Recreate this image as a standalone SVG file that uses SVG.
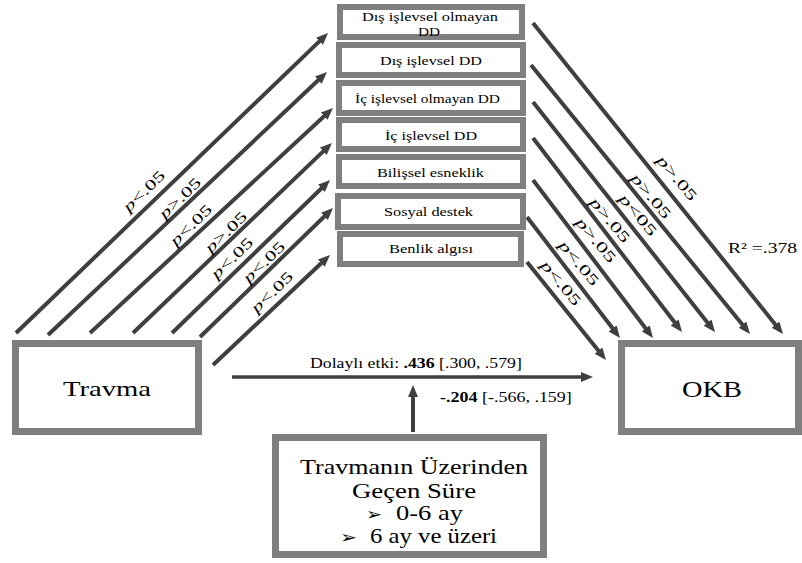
<svg xmlns="http://www.w3.org/2000/svg" width="802" height="563" viewBox="0 0 802 563">
  <defs>
    <marker id="head" markerUnits="userSpaceOnUse" markerWidth="12" markerHeight="10" refX="1" refY="5" orient="auto">
      <path d="M0,0 L12,5 L0,10 z" fill="#3f3f3f"/>
    </marker>
    <style>
      .box { fill: #ffffff; stroke: #7f7f7f; stroke-width: 6; }
      .big { fill: #ffffff; stroke: #7f7f7f; stroke-width: 7; }
      .edge { stroke: #3f3f3f; stroke-width: 4; fill: none; marker-end: url(#head); }
      .t { font-family: 'Liberation Serif', 'DejaVu Serif', 'Noto Serif', serif; fill: #000000; }
      .mid { font-size: 13px; }
      .lg { font-size: 21px; }
      .pl { font-size: 15px; }
      .sm { font-size: 14px; }
      .bul { font-family: 'DejaVu Sans', sans-serif; font-size: 17px; fill: #000000; }
    </style>
  </defs>
  <rect width="802" height="563" fill="#ffffff"/>

  <!-- connectors -->
  <g id="connectors">
    <!-- Travma to mediators -->
    <line class="edge" x1="16" y1="333" x2="320.1" y2="40.6"/>
    <line class="edge" x1="48" y1="335" x2="319.0" y2="79.5"/>
    <line class="edge" x1="90" y1="333" x2="324.9" y2="115.5"/>
    <line class="edge" x1="133" y1="333" x2="324.0" y2="150.6"/>
    <line class="edge" x1="172" y1="333" x2="322.1" y2="187.7"/>
    <line class="edge" x1="200" y1="337" x2="325.1" y2="215.7"/>
    <line class="edge" x1="213" y1="365" x2="322.0" y2="262.5"/>
    <!-- mediators to OKB -->
    <line class="edge" x1="533" y1="23" x2="776.1" y2="325.4"/>
    <line class="edge" x1="531" y1="65" x2="743.1" y2="325.5"/>
    <line class="edge" x1="533" y1="102" x2="708.2" y2="323.4"/>
    <line class="edge" x1="533" y1="138" x2="675.3" y2="323.3"/>
    <line class="edge" x1="533" y1="180" x2="646.3" y2="329.2"/>
    <line class="edge" x1="527" y1="217" x2="613.3" y2="329.3"/>
    <line class="edge" x1="527" y1="262" x2="599.1" y2="351.4"/>
    <!-- direct path and moderator -->
    <line class="edge" x1="232" y1="377" x2="582" y2="377" style="stroke-width:3.5"/>
    <line class="edge" x1="413" y1="432" x2="413" y2="396"/>

    <!-- path labels, left side -->
    <g class="t pl">
      <text transform="translate(144,191) rotate(-44)" x="-26" y="5" textLength="52" lengthAdjust="spacingAndGlyphs"><tspan font-style="italic">p</tspan>&lt;.05</text>
      <text transform="translate(180,198) rotate(-44)" x="-26" y="5" textLength="52" lengthAdjust="spacingAndGlyphs"><tspan font-style="italic">p</tspan>&gt;.05</text>
      <text transform="translate(191,225) rotate(-44)" x="-26" y="5" textLength="52" lengthAdjust="spacingAndGlyphs"><tspan font-style="italic">p</tspan>&lt;.05</text>
      <text transform="translate(226,232) rotate(-44)" x="-26" y="5" textLength="52" lengthAdjust="spacingAndGlyphs"><tspan font-style="italic">p</tspan>&gt;.05</text>
      <text transform="translate(232,258) rotate(-44)" x="-26" y="5" textLength="52" lengthAdjust="spacingAndGlyphs"><tspan font-style="italic">p</tspan>&lt;.05</text>
      <text transform="translate(264,262) rotate(-44)" x="-26" y="5" textLength="52" lengthAdjust="spacingAndGlyphs"><tspan font-style="italic">p</tspan>&lt;.05</text>
      <text transform="translate(272,292) rotate(-44)" x="-26" y="5" textLength="52" lengthAdjust="spacingAndGlyphs"><tspan font-style="italic">p</tspan>&lt;.05</text>
    </g>
    <!-- path labels, right side -->
    <g class="t pl">
      <text transform="translate(677,178) rotate(50)" x="-27" y="5" textLength="54" lengthAdjust="spacingAndGlyphs"><tspan font-style="italic">p</tspan>&gt;.05</text>
      <text transform="translate(651,196) rotate(50)" x="-27" y="5" textLength="54" lengthAdjust="spacingAndGlyphs"><tspan font-style="italic">p</tspan>&gt;.05</text>
      <text transform="translate(638,215) rotate(50)" x="-25" y="5" textLength="50" lengthAdjust="spacingAndGlyphs"><tspan font-style="italic">p</tspan>&lt;05</text>
      <text transform="translate(610,220) rotate(50)" x="-27" y="5" textLength="54" lengthAdjust="spacingAndGlyphs"><tspan font-style="italic">p</tspan>&gt;.05</text>
      <text transform="translate(596,240) rotate(50)" x="-27" y="5" textLength="54" lengthAdjust="spacingAndGlyphs"><tspan font-style="italic">p</tspan>&gt;.05</text>
      <text transform="translate(579,263) rotate(50)" x="-27" y="5" textLength="54" lengthAdjust="spacingAndGlyphs"><tspan font-style="italic">p</tspan>&lt;.05</text>
      <text transform="translate(561,283) rotate(50)" x="-27" y="5" textLength="54" lengthAdjust="spacingAndGlyphs"><tspan font-style="italic">p</tspan>&lt;.05</text>
    </g>
    <text class="t sm" x="728" y="253" textLength="69" lengthAdjust="spacingAndGlyphs">R² =.378</text>
    <text class="t sm" transform="translate(310,368) scale(1.268,1)">Dolaylı etki: <tspan font-weight="bold">.436</tspan> [.300, .579]</text>
    <text class="t sm" transform="translate(440,402) scale(1.285,1)"><tspan font-weight="bold">-.204</tspan> [-.566, .159]</text>
  </g>

  <!-- mediator boxes -->
  <g id="dis-islevsel-olmayan">
    <rect class="box" x="340" y="7" width="182" height="30"/>
    <text class="t mid" x="362" y="21" textLength="136" lengthAdjust="spacingAndGlyphs">Dış işlevsel olmayan</text>
    <text class="t mid" x="418" y="36" textLength="22" lengthAdjust="spacingAndGlyphs">DD</text>
  </g>
  <g id="dis-islevsel">
    <rect class="box" x="339" y="45" width="184" height="30"/>
    <text class="t mid" x="380" y="65" textLength="102" lengthAdjust="spacingAndGlyphs">Dış işlevsel DD</text>
  </g>
  <g id="ic-islevsel-olmayan">
    <rect class="box" x="339" y="83" width="184" height="30"/>
    <text class="t mid" x="355" y="103" textLength="145" lengthAdjust="spacingAndGlyphs">İç işlevsel olmayan DD</text>
  </g>
  <g id="ic-islevsel">
    <rect class="box" x="339" y="120" width="184" height="29"/>
    <text class="t mid" x="385" y="140" textLength="92" lengthAdjust="spacingAndGlyphs">İç işlevsel DD</text>
  </g>
  <g id="bilissel-esneklik">
    <rect class="box" x="339" y="157" width="184" height="29"/>
    <text class="t mid" x="377" y="177" textLength="107" lengthAdjust="spacingAndGlyphs">Bilişsel esneklik</text>
  </g>
  <g id="sosyal-destek">
    <rect class="box" x="338" y="196" width="185" height="31"/>
    <text class="t mid" x="384" y="216" textLength="89" lengthAdjust="spacingAndGlyphs">Sosyal destek</text>
  </g>
  <g id="benlik-algisi">
    <rect class="box" x="340" y="234" width="181" height="30"/>
    <text class="t mid" x="389" y="253" textLength="84" lengthAdjust="spacingAndGlyphs">Benlik algısı</text>
  </g>

  <!-- predictor -->
  <g id="travma">
    <rect class="big" x="15.5" y="343.5" width="183" height="88"/>
    <text class="t lg" style="font-size:22px" x="63" y="396" textLength="88" lengthAdjust="spacingAndGlyphs">Travma</text>
  </g>

  <!-- outcome -->
  <g id="okb">
    <rect class="big" x="621.5" y="343.5" width="177" height="88"/>
    <text class="t" style="font-size:23px" x="682" y="397" textLength="60" lengthAdjust="spacingAndGlyphs">OKB</text>
  </g>

  <!-- moderator -->
  <g id="gecen-sure">
    <rect class="big" x="275.5" y="437.5" width="268" height="117"/>
    <text class="t lg" x="300" y="474" textLength="228" lengthAdjust="spacingAndGlyphs">Travmanın Üzerinden</text>
    <text class="t lg" x="352" y="498" textLength="124" lengthAdjust="spacingAndGlyphs">Geçen Süre</text>
    <text class="bul" x="366" y="520" textLength="16" lengthAdjust="spacingAndGlyphs">➢</text>
    <text class="t lg" x="396" y="520" textLength="67" lengthAdjust="spacingAndGlyphs">0-6 ay</text>
    <text class="bul" x="340" y="543" textLength="17" lengthAdjust="spacingAndGlyphs">➢</text>
    <text class="t lg" x="370" y="543" textLength="127" lengthAdjust="spacingAndGlyphs">6 ay ve üzeri</text>
  </g>
</svg>
